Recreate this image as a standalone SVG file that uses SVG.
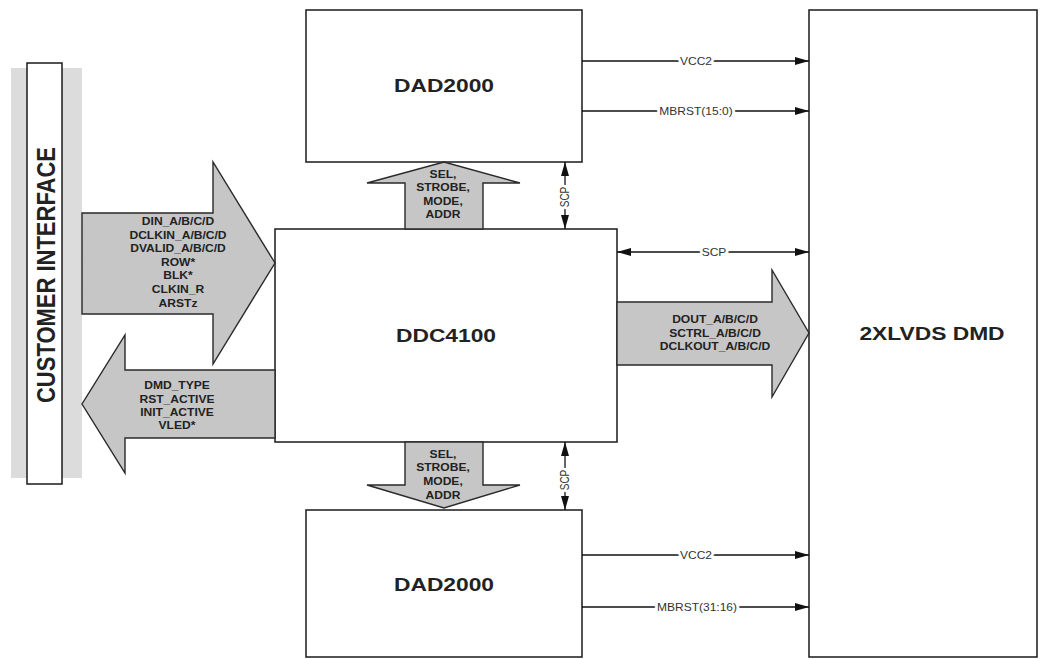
<svg xmlns="http://www.w3.org/2000/svg" width="1042" height="659" viewBox="0 0 1042 659">
<style>
.box{fill:#fff;stroke:#1a1a1a;stroke-width:1.5}
.big{fill:#fff;stroke:#1a1a1a;stroke-width:1.5}
.fat{fill:#c6c6c6;stroke:#2a2a2a;stroke-width:1.4;stroke-linejoin:miter}
.title{font-family:"Liberation Sans",Arial,sans-serif;font-weight:bold;font-size:19px;fill:#222;text-anchor:middle}
.lbl{font-family:"Liberation Sans",Arial,sans-serif;font-weight:bold;font-size:10.5px;fill:#222;text-anchor:middle}
.sig{font-family:"Liberation Sans",Arial,sans-serif;font-size:10px;fill:#333;text-anchor:middle;stroke:#fff;stroke-width:5;paint-order:stroke;stroke-linejoin:round}
.wire{fill:none;stroke:#111;stroke-width:1.3}
</style>
<defs>
<marker id="ah" viewBox="0 0 14 8" refX="14" refY="4" markerWidth="14" markerHeight="8" markerUnits="userSpaceOnUse" orient="auto-start-reverse">
<path d="M0,0 L14,4 L0,8 z" fill="#111"/>
</marker>
</defs>

<g id="customer-interface">
<rect x="11" y="68" width="71" height="410" fill="#dcdcdc"/>
<rect x="27" y="63" width="35" height="421" class="box"/>
<text class="title" font-size="22" transform="translate(55,275) scale(1.15,1) rotate(-90)" x="0" y="0" style="font-size:22px">CUSTOMER INTERFACE</text>
</g>

<g id="dad2000-top">
<rect x="306" y="10" width="276" height="152" class="box"/>
<text class="title" transform="matrix(1.2 0 0 1 444 92)">DAD2000</text>
</g>

<g id="ddc4100">
<rect x="275" y="229" width="342" height="213" class="box"/>
<text class="title" transform="matrix(1.2 0 0 1 446 342)">DDC4100</text>
</g>

<g id="dad2000-bottom">
<rect x="306" y="510" width="276" height="147" class="box"/>
<text class="title" transform="matrix(1.2 0 0 1 444 591)">DAD2000</text>
</g>

<g id="dmd">
<rect x="809" y="10" width="228" height="647" class="box"/>
<text class="title" transform="matrix(1.2 0 0 1 932 340)">2XLVDS DMD</text>
</g>

<g id="connectors">
<g id="bus-in">
<polygon class="fat" points="82,213 213,213 213,162 275,263 213,364 213,314 82,314"/>
<g>
<text class="lbl" transform="matrix(1.15 0 0 1 178 225)">DIN_A/B/C/D</text>
<text class="lbl" transform="matrix(1.15 0 0 1 178 239)">DCLKIN_A/B/C/D</text>
<text class="lbl" transform="matrix(1.15 0 0 1 178 252)">DVALID_A/B/C/D</text>
<text class="lbl" transform="matrix(1.15 0 0 1 178 266)">ROW*</text>
<text class="lbl" transform="matrix(1.15 0 0 1 178 279)">BLK*</text>
<text class="lbl" transform="matrix(1.15 0 0 1 178 293)">CLKIN_R</text>
<text class="lbl" transform="matrix(1.15 0 0 1 178 307)">ARSTz</text>
</g>
</g>
<g id="bus-out">
<polygon class="fat" points="275,370 125,370 125,335 82,404 125,473 125,438 275,438"/>
<text class="lbl" transform="matrix(1.15 0 0 1 177 389)">DMD_TYPE</text>
<text class="lbl" transform="matrix(1.15 0 0 1 177 403)">RST_ACTIVE</text>
<text class="lbl" transform="matrix(1.15 0 0 1 177 416)">INIT_ACTIVE</text>
<text class="lbl" transform="matrix(1.15 0 0 1 177 429)">VLED*</text>
</g>
<g id="bus-up">
<polygon class="fat" points="405,229 405,183 367,183 444,162 520,183 483,183 483,229"/>
<text class="lbl" transform="matrix(1.15 0 0 1 443 178)">SEL,</text>
<text class="lbl" transform="matrix(1.15 0 0 1 443 191)">STROBE,</text>
<text class="lbl" transform="matrix(1.15 0 0 1 443 205)">MODE,</text>
<text class="lbl" transform="matrix(1.15 0 0 1 443 218)">ADDR</text>
</g>
<g id="bus-down">
<polygon class="fat" points="405,442 405,485 367,485 444,508 520,485 483,485 483,442"/>
<text class="lbl" transform="matrix(1.15 0 0 1 443 458)">SEL,</text>
<text class="lbl" transform="matrix(1.15 0 0 1 443 471)">STROBE,</text>
<text class="lbl" transform="matrix(1.15 0 0 1 443 485)">MODE,</text>
<text class="lbl" transform="matrix(1.15 0 0 1 443 499)">ADDR</text>
</g>
<g id="bus-dmd">
<polygon class="fat" points="617,302 772,302 772,270 809,333 772,397 772,365 617,365"/>
<text class="lbl" transform="matrix(1.15 0 0 1 715 323)">DOUT_A/B/C/D</text>
<text class="lbl" transform="matrix(1.15 0 0 1 715 337)">SCTRL_A/B/C/D</text>
<text class="lbl" transform="matrix(1.15 0 0 1 715 350)">DCLKOUT_A/B/C/D</text>
</g>

<line class="wire" x1="582" y1="61" x2="809" y2="61" marker-end="url(#ah)"/>
<text class="sig" transform="matrix(1.2 0 0 1 696 64.5)">VCC2</text>
<line class="wire" x1="582" y1="111" x2="809" y2="111" marker-end="url(#ah)"/>
<text class="sig" transform="matrix(1.2 0 0 1 696 114.5)">MBRST(15:0)</text>
<line class="wire" x1="617" y1="252" x2="809" y2="252" marker-start="url(#ah)" marker-end="url(#ah)"/>
<text class="sig" transform="matrix(1.2 0 0 1 714 255.5)">SCP</text>
<line class="wire" x1="582" y1="555" x2="809" y2="555" marker-end="url(#ah)"/>
<text class="sig" transform="matrix(1.2 0 0 1 696 558.5)">VCC2</text>
<line class="wire" x1="582" y1="607" x2="809" y2="607" marker-end="url(#ah)"/>
<text class="sig" transform="matrix(1.2 0 0 1 697 610.5)">MBRST(31:16)</text>

<line class="wire" x1="565" y1="162" x2="565" y2="229" marker-start="url(#ah)" marker-end="url(#ah)"/>
<text class="sig" transform="translate(569,197) scale(1.2,1) rotate(-90)">SCP</text>
<line class="wire" x1="565" y1="442" x2="565" y2="510" marker-start="url(#ah)" marker-end="url(#ah)"/>
<text class="sig" transform="translate(569,480) scale(1.2,1) rotate(-90)">SCP</text>
</g>
</svg>
